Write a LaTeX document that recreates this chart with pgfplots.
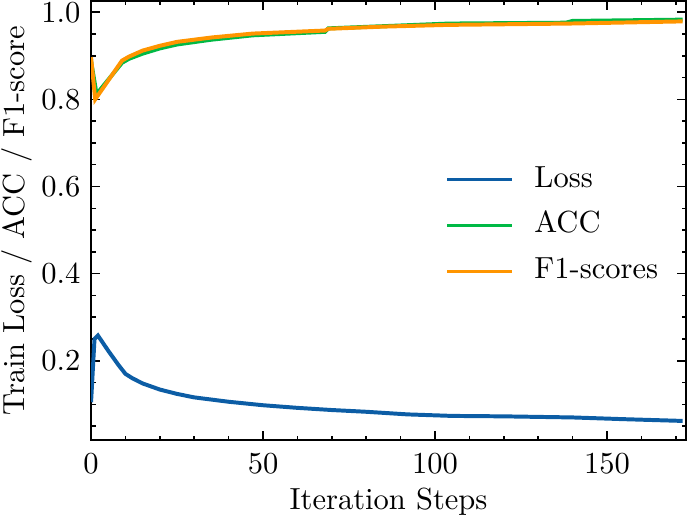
\documentclass[border=0pt]{standalone}
\usepackage{pgfplots}
\pgfplotsset{compat=1.18}
\definecolor{sciblue}{HTML}{0C5DA5}
\definecolor{scigreen}{HTML}{00B945}
\definecolor{sciorange}{HTML}{FF9500}
\begin{document}
\begin{tikzpicture}
\begin{axis}[
  scale only axis, width=195pt, height=144pt,
  xmin=0, xmax=173, ymin=0.0175, ymax=1.026,
  xtick={0,50,100,150},
  minor xtick={10,20,30,40,60,70,80,90,110,120,130,140,160,170},
  ytick={0.2,0.4,0.6,0.8,1.0},
  minor ytick={0.05,0.1,0.15,0.25,0.3,0.35,0.45,0.5,0.55,0.65,0.7,0.75,0.85,0.9,0.95},
  xtick pos=both, ytick pos=both, tick align=inside,
  major tick length=3pt, minor tick length=1.5pt,
  every tick/.style={black, line width=0.5pt},
  axis line style={line width=0.6pt},
  yticklabel style={inner ysep=0.5pt, /pgf/number format/fixed, /pgf/number format/fixed zerofill, /pgf/number format/precision=1},
  xticklabel style={inner ysep=4.2pt},
  xlabel={Iteration Steps},
  xlabel style={inner ysep=0.5pt},
  ylabel={Train Loss / ACC / F1-score},
  ylabel style={inner ysep=0.5pt},
  ylabel shift=-1pt,
  legend style={draw=none, fill=none, at={(0.58,0.647)}, anchor=north west,
    row sep=4pt, column sep=0pt,
    nodes={inner sep=1pt, text height=7pt, text depth=2pt}},
  legend image code/.code={\draw[#1, line width=1pt] (0pt,0pt) -- (21pt,0pt);},
  legend cell align=left,
  legend style={/tikz/every odd column/.append style={column sep=6pt}},
]
\addplot[sciblue, line width=1.3pt] coordinates {
(0,0.105) (1,0.25) (2,0.258) (5,0.223) (8,0.19) (10,0.170) (12,0.160) (15,0.148) (20,0.134) (25,0.124)
(30,0.116) (40,0.106) (50,0.098) (60,0.092) (70,0.087) (80,0.083) (92,0.077) (105,0.0735)
(120,0.0725) (140,0.070) (155,0.066) (172,0.062)
};
\addlegendentry{Loss}
\addplot[scigreen, line width=1.3pt] coordinates {
(0,0.888) (1.6,0.812) (9,0.884) (11,0.893) (15,0.905) (20,0.917) (25,0.926) (35,0.937) (47,0.947) (68,0.955)
(69,0.963) (85,0.968) (104,0.974) (138,0.976) (140,0.980) (172,0.983)
};
\addlegendentry{ACC}
\addplot[sciorange, line width=1.3pt] coordinates {
(0,0.897) (1.2,0.80) (9,0.889) (11,0.898) (15,0.912) (20,0.923) (25,0.932) (35,0.942) (47,0.951) (68,0.958)
(69,0.962) (85,0.967) (104,0.971) (139,0.974) (172,0.979)
};
\addlegendentry{F1-scores}
\end{axis}
\end{tikzpicture}
\end{document}
